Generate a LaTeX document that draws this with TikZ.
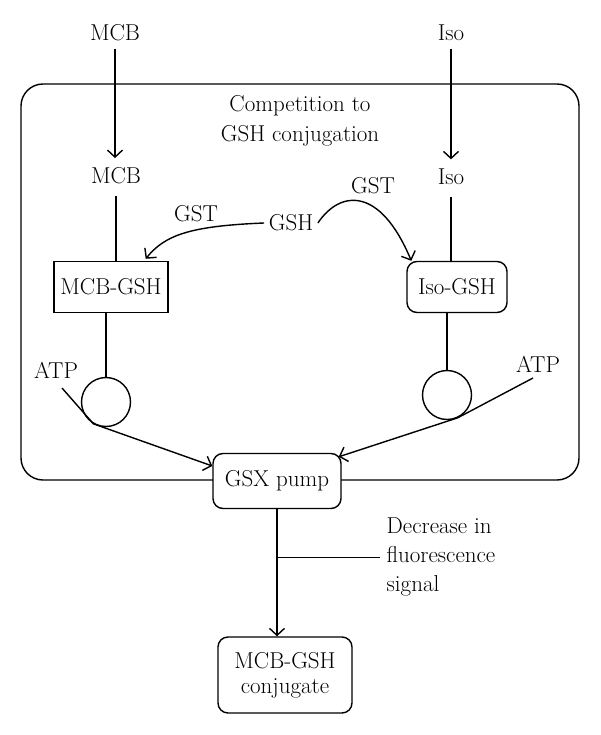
\documentclass[tikz,border=0pt]{standalone}
\usetikzlibrary{arrows.meta,calc}
\begin{document}
\begin{tikzpicture}[x=1pt,y=-1pt,line width=1.4pt,
  lbl/.style={font=\fontsize{23}{30}\selectfont,inner sep=0pt},
  sqbox/.style={draw,fill=white,inner sep=0pt,font=\fontsize{23}{26}\selectfont},
  rbox/.style={draw,fill=white,rounded corners=10pt,inner sep=0pt,align=center},
  ring/.style={draw,circle,minimum size=49pt,inner sep=0pt},
  arr/.style={-{Straight Barb[length=7pt,width=15pt]}}
]
\useasboundingbox (0,0) rectangle (600,735);

% enclosing compartment
\draw[rounded corners=22pt] (21,84) rectangle (579,480);
\node[lbl,align=center] (comp) at (300,121) {Competition to\\GSH conjugation};

% MCB branch
\node[lbl] (mcb1) at (115,33) {MCB};
\node[lbl] (mcb2) at (116,176) {MCB};
\node[sqbox,minimum width=114pt,minimum height=51pt] (mcbgsh) at (111,287) {MCB-GSH};
\node[ring] (c1) at (106,402) {};
\node[lbl] (atp1) at (56,370) {ATP};

% Iso branch
\node[lbl] (iso1) at (451,33) {Iso};
\node[lbl] (iso2) at (451,177) {Iso};
\node[rbox,minimum width=100pt,minimum height=51pt,font=\fontsize{23}{26}\selectfont] (isogsh) at (457,287) {Iso-GSH};
\node[ring] (c2) at (447,395) {};
\node[lbl] (atp2) at (538,364) {ATP};

% GSH / GST
\node[lbl,inner sep=4pt] (gsh) at (291,223) {GSH};
\node[lbl] (gst1) at (196,214) {GST};
\node[lbl] (gst2) at (373,186) {GST};

% pump and product
\node[rbox,minimum width=128pt,minimum height=55pt,font=\fontsize{23}{26}\selectfont] (gsx) at (277,481) {GSX pump};
\node[rbox,minimum width=134pt,minimum height=76pt,font=\fontsize{23}{25}\selectfont] (conj) at (285,675) {MCB-GSH\\conjugate};
\node[lbl,align=left,anchor=west,font=\fontsize{23}{29}\selectfont] (dec) at (386,557) {Decrease in\\fluorescence\\signal};

% connectors
\draw[arr,shorten <=7.5pt,shorten >=9pt] (mcb1.south) -- (mcb1.south |- mcb2.north);
\draw[shorten <=11pt] (mcb2.south) -- (mcb2.south |- mcbgsh.north);
\draw (mcbgsh.south -| c1.north) -- (c1.north);

\draw[arr,shorten <=7.5pt,shorten >=9pt] (iso1.south) -- (iso1.south |- iso2.north);
\draw[shorten <=11pt] (iso2.south) -- (iso2.south |- isogsh.north);
\draw (isogsh.south -| c2.north) -- (c2.north);

\draw[arr] (gsh.west) .. controls (190,226) and (165,235) .. ($(mcbgsh.north east)+(-23,-2)$);
\draw[arr] (gsh.east) .. controls (340,190) and (380,186) .. ($(isogsh.north west)+(5,0)$);

\coordinate (a1s) at (62,388);
\coordinate (a2s) at (533,378);
\draw[arr] (a1s) -- (c1.-120) -- ($(gsx.west)+(0,-15)$);
\draw[arr] (a2s) -- (c2.-65) -- ($(gsx.north east)+(-3,4)$);

\draw[arr] (gsx.south) -- (gsx.south |- conj.north);
\coordinate (br) at ($(gsx.south)+(0,48)$);
\coordinate (brend) at ($(br)+(103,0)$);
\draw (br) -- (brend);
\end{tikzpicture}
\end{document}
